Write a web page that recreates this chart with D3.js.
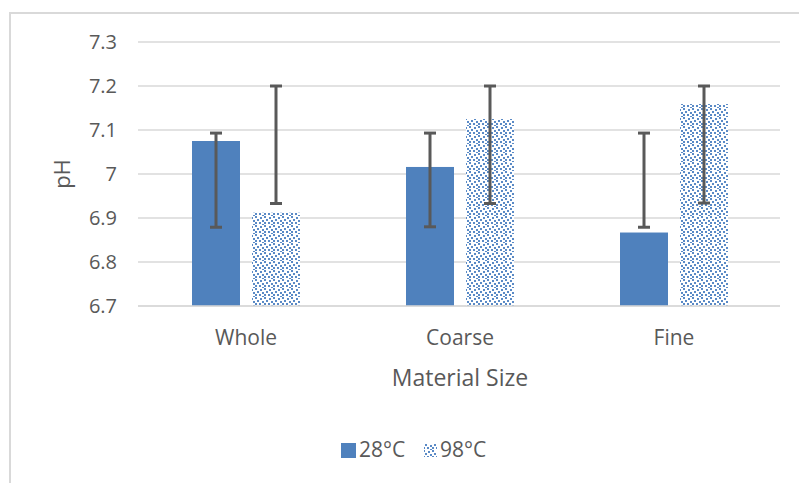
<!DOCTYPE html>
<html><head><meta charset="utf-8">
<script src="https://cdn.jsdelivr.net/npm/d3@7"></script>
<style>body{margin:0;background:#fff;} svg{display:block;font-family:"Open Sans",sans-serif;}</style>
</head><body><svg id="c" width="799" height="483"></svg>
<script>
const categories = ["Whole", "Coarse", "Fine"];
const seriesNames = ["28°C", "98°C"];
const values28 = [7.075, 7.016, 6.867];
const values98 = [6.912, 7.125, 7.159];
const lower28 = [6.879, 6.880, 6.879];
const upper28 = [7.093, 7.093, 7.093];
const lower98 = [6.933, 6.933, 6.934];
const upper98 = [7.200, 7.200, 7.200];
const yTicks = [6.7, 6.8, 6.9, 7.0, 7.1, 7.2, 7.3];
const yTickLabels = ["6.7", "6.8", "6.9", "7", "7.1", "7.2", "7.3"];

const svg = d3.select("#c");
const blue = "#4f81bd";
const textCol = "#595959";

// pattern
const defs = svg.append("defs");
const pat = defs.append("pattern").attr("id","confetti").attr("patternUnits","userSpaceOnUse")
  .attr("width",9).attr("height",9);
pat.append("rect").attr("width",9).attr("height",9).attr("fill","#fff");
[[0,0],[5,1],[2,3],[7,4],[0,6],[4,6],[7,8]].forEach(p=>{
  pat.append("rect").attr("x",p[0]).attr("y",p[1]).attr("width",2).attr("height",2).attr("fill","#5a8ac6");
});

// chart border
svg.append("rect").attr("x",10).attr("y",13).attr("width",850).attr("height",550)
  .attr("fill","none").attr("stroke","#d9d9d9").attr("stroke-width",2);

const y = d3.scaleLinear().domain([6.7,7.3]).range([306,42]);
const x0 = d3.scaleBand().domain(categories).range([138,780]);
const x1 = d3.scaleBand().domain(seriesNames).range([54,162]).paddingInner(0.2).paddingOuter(0);

// gridlines
svg.append("g").selectAll("line").data(yTicks).join("line")
  .attr("x1",138).attr("x2",780).attr("y1",d=>y(d)).attr("y2",d=>y(d))
  .attr("stroke","#d9d9d9").attr("stroke-width",1.5);

// y labels
svg.append("g").selectAll("text").data(yTicks).join("text")
  .attr("x",117).attr("y",d=>y(d)).attr("dy","0.35em").attr("text-anchor","end")
  .attr("fill",textCol).attr("font-size",20).text((d,i)=>yTickLabels[i]);

const data = categories.map((c,i)=>({cat:c, s:[
  {name:"28°C", v:values28[i], lo:lower28[i], hi:upper28[i], fill:blue},
  {name:"98°C", v:values98[i], lo:lower98[i], hi:upper98[i], fill:"url(#confetti)"}]}));

const g = svg.append("g").selectAll("g").data(data).join("g")
  .attr("transform",d=>`translate(${x0(d.cat)},0)`);
g.selectAll("rect").data(d=>d.s).join("rect")
  .attr("x",d=>x1(d.name)).attr("width",x1.bandwidth())
  .attr("y",d=>y(d.v)).attr("height",d=>y(6.7)-y(d.v)).attr("fill",d=>d.fill);

// axis line
svg.append("line").attr("x1",138).attr("x2",780).attr("y1",y(6.7)).attr("y2",y(6.7))
  .attr("stroke","#d9d9d9").attr("stroke-width",1.5);

// error bars
const eb = g.selectAll("g.eb").data(d=>d.s).join("g").attr("class","eb");
eb.append("line").attr("x1",d=>x1(d.name)+x1.bandwidth()/2).attr("x2",d=>x1(d.name)+x1.bandwidth()/2)
  .attr("y1",d=>y(d.lo)).attr("y2",d=>y(d.hi)).attr("stroke",textCol).attr("stroke-width",3);
["lo","hi"].forEach(k=>{
  eb.append("line").attr("x1",d=>x1(d.name)+x1.bandwidth()/2-6).attr("x2",d=>x1(d.name)+x1.bandwidth()/2+6)
    .attr("y1",d=>y(d[k])).attr("y2",d=>y(d[k])).attr("stroke",textCol).attr("stroke-width",3);
});

// category labels
svg.append("g").selectAll("text").data(categories).join("text")
  .attr("x",d=>x0(d)+x0.bandwidth()/2+1).attr("y",338).attr("dy","0.35em").attr("text-anchor","middle")
  .attr("fill",textCol).attr("font-size",21).text(d=>d);

// axis titles
svg.append("text").attr("x",460).attr("y",378).attr("dy","0.35em").attr("text-anchor","middle")
  .attr("fill",textCol).attr("font-size",23).text("Material Size");
svg.append("text").attr("transform","translate(62,174) rotate(-90)").attr("dy","0.35em")
  .attr("text-anchor","middle").attr("fill",textCol).attr("font-size",22).text("pH");

// legend
const lg = svg.append("g");
lg.append("rect").attr("x",341).attr("y",443).attr("width",15).attr("height",15).attr("fill",blue);
lg.append("text").attr("x",359).attr("y",450).attr("dy","0.35em").attr("fill",textCol).attr("font-size",21).text(seriesNames[0]);
lg.append("rect").attr("x",424).attr("y",444).attr("width",13).attr("height",13).attr("fill","url(#confetti)");
lg.append("text").attr("x",440).attr("y",450).attr("dy","0.35em").attr("fill",textCol).attr("font-size",21).text(seriesNames[1]);
</script></body></html>
